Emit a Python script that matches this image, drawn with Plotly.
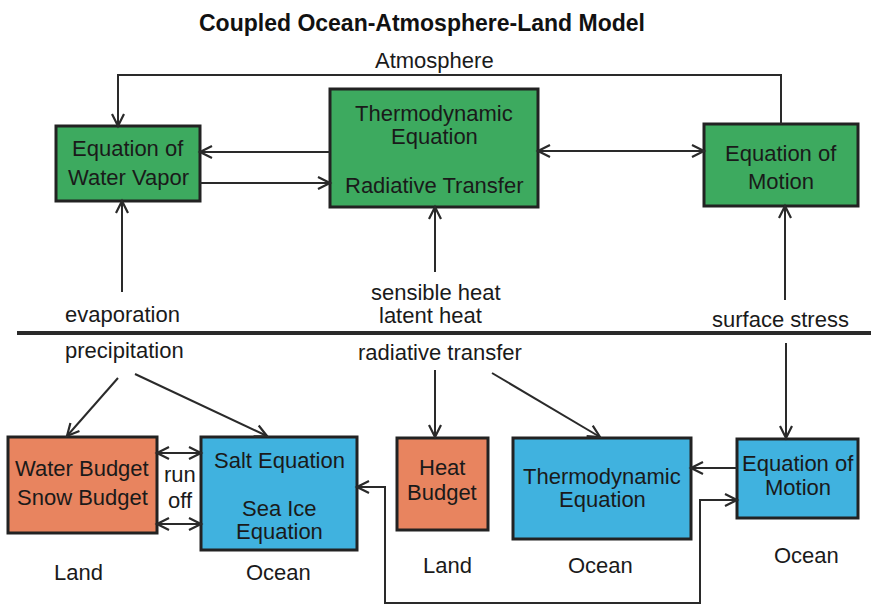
import math
import plotly.graph_objects as go

W, H = 871, 605
FONT = "Liberation Sans, Arial, sans-serif"
GREEN = "#3daa5f"
SALMON = "#e8845f"
BLUE = "#40b2df"
EDGE = "#222222"
INK = "#2a2a2a"

# Boxes: name, x0, y0, x1, y1, fill
box_names = ["atm_wv", "atm_th", "atm_mo", "land_wb", "oc_salt", "land_hb", "oc_th", "oc_mo"]
box_x0 = [56, 330, 704, 8, 201, 397, 513, 737]
box_y0 = [126, 89, 124, 437, 437, 438, 438, 439]
box_x1 = [200, 538, 858, 157, 357, 488, 691, 858]
box_y1 = [201, 207, 206, 533, 550, 530, 539, 518]
box_fill = [GREEN, GREEN, GREEN, SALMON, BLUE, SALMON, BLUE, BLUE]

# Box text lines: (text, x, y)
box_text = [
    ("Equation of", 128, 148), ("Water Vapor", 128, 177),
    ("Thermodynamic", 434, 113), ("Equation", 434, 136), ("Radiative Transfer", 434, 185),
    ("Equation of", 781, 153), ("Motion", 781, 181),
    ("Water Budget", 82, 468), ("Snow Budget", 82, 497),
    ("Salt Equation", 279, 460), ("Sea Ice", 279, 508), ("Equation", 279, 531),
    ("Heat", 442, 467), ("Budget", 442, 492),
    ("Thermodynamic", 602, 476), ("Equation", 602, 499),
    ("Equation of", 798, 463), ("Motion", 798, 487),
]

# Free labels: (text, x, y)
labels = [
    ("Atmosphere", 434, 60),
    ("evaporation", 122, 314),
    ("precipitation", 124, 350),
    ("sensible heat", 436, 292),
    ("latent heat", 430, 315),
    ("surface stress", 780, 319),
    ("radiative transfer", 440, 352),
    ("run", 180, 474), ("off", 180, 500),
    ("Land", 78, 572), ("Ocean", 278, 572),
    ("Land", 447, 565), ("Ocean", 600, 565), ("Ocean", 806, 555),
]
title_text = "Coupled Ocean-Atmosphere-Land Model"

# Connectors: polyline points, head at end, head at start
arrows = [
    ([(781, 124), (781, 75), (118, 75), (118, 126)], True, False),
    ([(330, 152), (200, 152)], True, False),
    ([(200, 183), (330, 183)], True, False),
    ([(538, 151), (704, 151)], True, True),
    ([(122, 292), (122, 201)], True, False),
    ([(435, 272), (435, 207)], True, False),
    ([(785, 300), (785, 206)], True, False),
    ([(118, 378), (67, 436)], True, False),
    ([(135, 374), (267, 436)], True, False),
    ([(435, 370), (435, 437)], True, False),
    ([(492, 373), (600, 437)], True, False),
    ([(786, 343), (786, 438)], True, False),
    ([(737, 468), (691, 468)], True, False),
    ([(737, 500), (700, 500), (700, 603), (385, 603), (385, 487), (357, 487)], True, True),
    ([(157, 453), (201, 453)], True, True),
    ([(157, 524), (201, 524)], True, True),
]

fig = go.Figure()
shapes = []
annotations = []

for x0, y0, x1, y1, fc in zip(box_x0, box_y0, box_x1, box_y1, box_fill):
    shapes.append(dict(type="rect", x0=x0, y0=y0, x1=x1, y1=y1, fillcolor=fc,
                       line=dict(color=EDGE, width=3), layer="below"))

def vhead(p_from, p_to, L=12, Wd=6):
    dx, dy = p_to[0] - p_from[0], p_to[1] - p_from[1]
    n = math.hypot(dx, dy)
    ux, uy = dx / n, dy / n
    nx, ny = -uy, ux
    bx, by = p_to[0] - L * ux, p_to[1] - L * uy
    a = (bx + Wd * nx, by + Wd * ny)
    b = (bx - Wd * nx, by - Wd * ny)
    return f"M {a[0]},{a[1]} L {p_to[0]},{p_to[1]} L {b[0]},{b[1]}"

for pts, head_end, head_start in arrows:
    path = "M " + " L ".join(f"{x},{y}" for x, y in pts)
    shapes.append(dict(type="path", path=path, line=dict(color=INK, width=2)))
    if head_end:
        shapes.append(dict(type="path", path=vhead(pts[-2], pts[-1]), line=dict(color=INK, width=2.2)))
    if head_start:
        shapes.append(dict(type="path", path=vhead(pts[1], pts[0]), line=dict(color=INK, width=2.2)))

# separator between atmosphere and surface
shapes.append(dict(type="line", x0=17, y0=333, x1=871, y1=333, line=dict(color=INK, width=4)))

for t, x, y in box_text + labels:
    annotations.append(dict(text=t, x=x, y=y, xref="x", yref="y", showarrow=False,
                            xanchor="center", yanchor="middle",
                            font=dict(family=FONT, size=22, color="#1a1a1a")))
annotations.append(dict(text=f"<b>{title_text}</b>", x=422, y=23, xref="x", yref="y",
                        showarrow=False, xanchor="center", yanchor="middle",
                        font=dict(family=FONT, size=23, color="#111111")))

fig.update_layout(
    width=W, height=H, margin=dict(l=0, r=0, t=0, b=0),
    paper_bgcolor="white", plot_bgcolor="white",
    xaxis=dict(range=[0, W], visible=False, fixedrange=True),
    yaxis=dict(range=[H, 0], visible=False, fixedrange=True),
    shapes=shapes, annotations=annotations, showlegend=False,
)
fig.write_html("out.html", config={"displayModeBar": False},
               post_script="document.body.style.margin='0px';document.body.style.overflow='hidden';")
